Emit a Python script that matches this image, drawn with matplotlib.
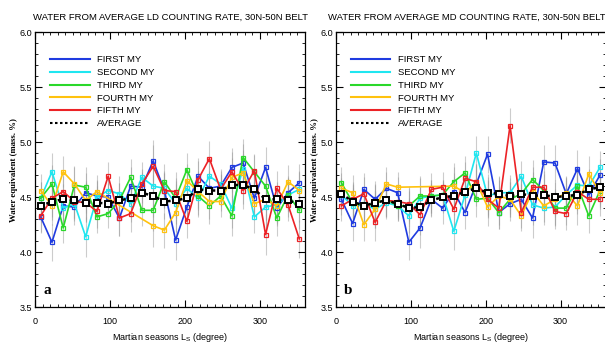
import numpy as np
import matplotlib
matplotlib.use('Agg')
import matplotlib.pyplot as plt
from matplotlib.ticker import MultipleLocator

plt.rcParams['font.family'] = ['Liberation Sans', 'DejaVu Sans']

nan = np.nan
ls = 7.5 + 15 * np.arange(24)

labels = ['FIRST MY', 'SECOND MY', 'THIRD MY', 'FOURTH MY', 'FIFTH MY']
colores = ['#1f3be0', '#1fe6f0', '#2ad82a', '#ffc20e', '#ec2226']

# panel a: LD counting rate
ld_first = [4.32, 4.09, 4.42, 4.41, 4.54, 4.51, 4.50, 4.31, 4.60, 4.59, 4.83, 4.56,
            4.11, 4.41, 4.69, 4.58, 4.60, 4.77, 4.81, 4.49, 4.77, 4.40, 4.54, 4.63]
ld_second = [4.49, 4.73, 4.40, 4.44, 4.14, 4.50, 4.56, 4.53, 4.44, 4.68, 4.60, 4.58,
             4.44, 4.58, 4.49, 4.69, 4.62, 4.40, 4.76, 4.32, 4.41, 4.43, 4.52, 4.57]
ld_third = [4.49, 4.62, 4.22, 4.61, 4.59, 4.32, 4.35, 4.47, 4.68, 4.38, 4.38, 4.64,
            4.49, 4.75, 4.51, 4.42, 4.51, 4.33, 4.86, 4.73, 4.60, 4.31, 4.52, 4.38]
ld_fourth = [4.56, 4.42, 4.73, 4.62, 4.47, 4.55, nan, nan, nan, nan, 4.24, 4.20,
             4.36, 4.65, 4.55, 4.46, 4.46, 4.68, 4.72, 4.44, 4.48, 4.42, 4.64, 4.56]
ld_fifth = [4.33, 4.49, 4.55, 4.46, 4.45, 4.37, 4.69, 4.31, 4.35, 4.62, 4.78, 4.56,
            4.55, 4.28, 4.66, 4.85, 4.57, 4.73, 4.56, 4.74, 4.16, 4.58, 4.43, 4.12]
ld_avg = [4.42, 4.46, 4.48, 4.47, 4.45, 4.45, 4.44, 4.47, 4.49, 4.54, 4.51, 4.46,
          4.47, 4.49, 4.57, 4.56, 4.56, 4.61, 4.61, 4.57, 4.48, 4.48, 4.47, 4.44]
ld_err = [0.15, 0.17, 0.14, 0.16, 0.18, 0.15, 0.13, 0.16, 0.17, 0.14, 0.19, 0.16,
          0.18, 0.15, 0.17, 0.16, 0.14, 0.18, 0.17, 0.15, 0.19, 0.16, 0.15, 0.17]

# panel b: MD counting rate
md_first = [4.48, 4.26, 4.57, 4.48, 4.58, 4.54, 4.09, 4.22, 4.48, 4.40, 4.55, 4.36,
            4.62, 4.89, 4.36, 4.44, 4.48, 4.31, 4.82, 4.81, 4.53, 4.76, 4.52, 4.70]
md_second = [4.52, 4.42, 4.44, 4.39, 4.45, 4.42, 4.33, 4.49, 4.51, 4.52, 4.19, 4.52,
             4.90, 4.51, 4.54, 4.54, 4.69, 4.43, 4.40, 4.41, 4.52, 4.61, 4.60, 4.77]
md_third = [4.63, 4.45, 4.42, 4.44, 4.48, 4.42, 4.42, 4.51, 4.51, 4.52, 4.64, 4.72,
            4.48, 4.49, 4.36, 4.48, 4.53, 4.66, 4.56, 4.40, 4.40, 4.60, 4.33, 4.56]
md_fourth = [4.58, 4.54, 4.25, 4.39, 4.62, 4.59, nan, nan, nan, nan, 4.60, 4.54,
             4.64, 4.41, 4.51, 4.48, 4.33, 4.55, 4.42, 4.48, 4.54, 4.42, 4.71, 4.54]
md_fifth = [4.42, 4.48, 4.53, 4.27, 4.47, 4.46, 4.44, 4.34, 4.57, 4.59, 4.39, 4.67,
            4.64, 4.48, 4.40, 5.15, 4.36, 4.59, 4.59, 4.37, 4.35, 4.55, 4.48, 4.48]
md_avg = [4.53, 4.46, 4.42, 4.45, 4.47, 4.44, 4.40, 4.41, 4.47, 4.50, 4.51, 4.55,
          4.58, 4.54, 4.53, 4.51, 4.53, 4.51, 4.52, 4.50, 4.51, 4.52, 4.57, 4.59]
md_err = [0.14, 0.16, 0.15, 0.17, 0.15, 0.14, 0.16, 0.18, 0.15, 0.14, 0.17, 0.15,
          0.16, 0.17, 0.15, 0.16, 0.14, 0.18, 0.15, 0.16, 0.15, 0.17, 0.16, 0.15]

paneles = [
    ('WATER FROM AVERAGE LD COUNTING RATE, 30N-50N BELT', 'a',
     [ld_first, ld_second, ld_third, ld_fourth, ld_fifth], ld_avg, ld_err),
    ('WATER FROM AVERAGE MD COUNTING RATE, 30N-50N BELT', 'b',
     [md_first, md_second, md_third, md_fourth, md_fifth], md_avg, md_err),
]

fig = plt.figure(figsize=(6.05, 3.49), dpi=100)
posiciones = [[0.058, 0.12, 0.446, 0.788], [0.555, 0.12, 0.446, 0.788]]
titulo_x = [0.5, 0.485]

for pos, tx, (titulo, letra, series, prom, err) in zip(posiciones, titulo_x, paneles):
    ax = fig.add_axes(pos)
    err = np.array(err)
    # barras de error en gris
    for s in series + [prom]:
        s = np.array(s, dtype=float)
        ok = ~np.isnan(s)
        ax.errorbar(ls[ok], s[ok], yerr=err[ok], fmt='none', ecolor='#9a9a9a',
                    elinewidth=0.8, alpha=0.5, zorder=1)
    for s, lab, c in zip(series, labels, colores):
        s = np.array(s, dtype=float)
        ok = ~np.isnan(s)
        ax.plot(ls[ok], s[ok], color=c, lw=1.2, marker='s', ms=3.5, mfc='none',
                mec=c, mew=0.9, label=lab, zorder=3)
    ax.plot(ls, prom, color='black', lw=1.8, ls=(0, (1.2, 1.2)), marker='s', ms=3.8,
            mfc='white', mec='black', mew=1.4, label='AVERAGE', zorder=4)

    ax.set_xlim(0, 360)
    ax.set_ylim(3.5, 6.0)
    ax.xaxis.set_major_locator(MultipleLocator(100))
    ax.xaxis.set_minor_locator(MultipleLocator(10))
    ax.yaxis.set_major_locator(MultipleLocator(0.5))
    ax.yaxis.set_minor_locator(MultipleLocator(0.1))
    ax.yaxis.set_major_formatter(matplotlib.ticker.FormatStrFormatter('%.1f'))
    ax.tick_params(which='both', direction='in', top=True, right=True, labelsize=6.5)
    ax.tick_params(axis='x', pad=7)
    ax.tick_params(axis='y', pad=2)
    ax.tick_params(which='major', length=5, width=0.8)
    ax.tick_params(which='minor', length=2.5, width=0.6)
    for sp in ax.spines.values():
        sp.set_linewidth(0.9)

    ax.set_title(titulo, fontsize=6.8, pad=9, x=tx)
    ax.set_xlabel('Martian seasons L$_\\mathregular{S}$ (degree)', fontsize=6.5, labelpad=4)
    ax.set_ylabel('Water equivalent (mass. %)', fontsize=6.3, family='Liberation Serif',
                  fontweight='bold', labelpad=1)
    ax.text(0.03, 0.06, letra, transform=ax.transAxes, fontsize=11, fontweight='bold',
            family='Liberation Serif', va='center')

    ax.legend(loc='upper left', frameon=False, fontsize=6.8, handlelength=4.2,
              handletextpad=0.8, labelspacing=0.4, borderaxespad=0.9,
              bbox_to_anchor=(0.01, 0.96))
    for h in ax.get_legend().get_lines():
        h.set_marker('')
        h.set_linewidth(1.5)

fig.savefig('out.png', dpi=100)
